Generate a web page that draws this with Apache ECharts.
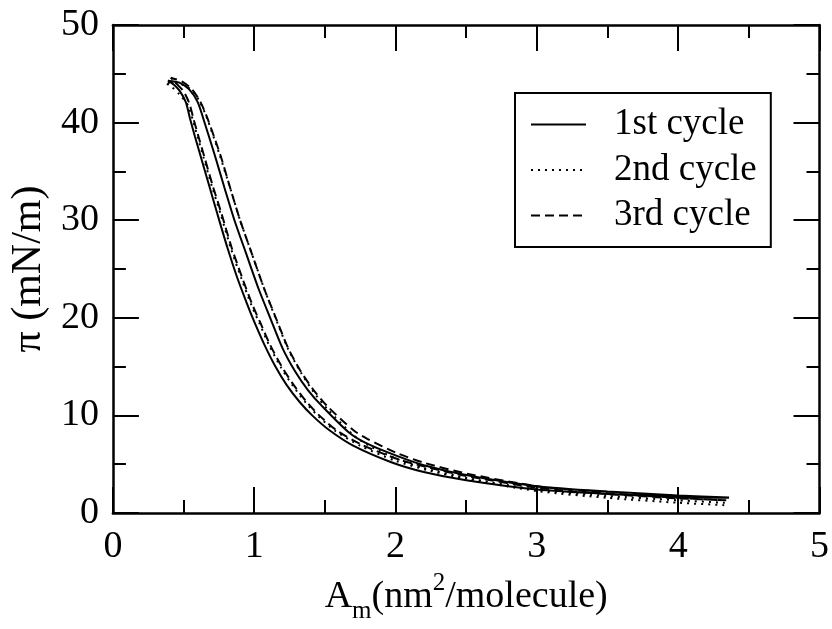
<!DOCTYPE html>
<html>
<head>
<meta charset="utf-8">
<script src="https://cdn.jsdelivr.net/npm/echarts@6/dist/echarts.min.js"></script>
<style>
html,body{margin:0;padding:0;background:#fff;}
#chart{width:832px;height:629px;}
</style>
</head>
<body>
<div id="chart"></div>
<script>
// Series names
const seriesNames = ['1st cycle', '2nd cycle', '3rd cycle'];
// Axis tick labels
const xTicks = [0, 1, 2, 3, 4, 5];
const yTicks = [0, 10, 20, 30, 40, 50];

// 1st cycle: compression (upper branch) then expansion (lower branch), [A_m, pi]
const c1Comp = [[4.36,1.58],[4.0,1.8],[3.5,2.2],[3.0,2.75],[2.5,3.9],[2.2,4.9],[2.0,5.9],[1.8,7.1],[1.67,8.25],[1.48,10.95],[1.38,12.6],[1.29,14.5],[1.2,16.9],[1.11,20.1],[1.03,23.0],[0.94,26.7],[0.86,30.0],[0.79,33.3],[0.72,36.7],[0.64,40.4],[0.60,42.1],[0.54,43.4],[0.47,44.1],[0.39,44.3]];
const c1Exp = [[0.39,44.3],[0.43,43.9],[0.47,43.3],[0.516,42.1],[0.546,40.4],[0.58,38.6],[0.62,36.6],[0.68,33.6],[0.74,30.6],[0.81,27.2],[0.88,24.1],[0.95,21.4],[1.0,19.6],[1.07,17.3],[1.15,15.0],[1.23,13.1],[1.32,11.4],[1.41,10.0],[1.53,8.5],[1.7,6.9],[1.97,5.2],[2.2,4.2],[2.5,3.35],[3.0,2.4],[3.5,1.95],[4.0,1.65],[4.36,1.55]];

// 2nd cycle
const c2Comp = [[4.33,1.05],[4.0,1.3],[3.5,1.75],[3.0,2.4],[2.5,3.6],[2.2,4.6],[2.0,5.6],[1.8,7.0],[1.7,8.0],[1.52,10.6],[1.42,12.4],[1.33,14.4],[1.24,16.8],[1.15,20.0],[1.07,23.0],[0.98,26.7],[0.90,30.0],[0.83,33.3],[0.755,36.7],[0.67,40.3],[0.62,42.0],[0.56,43.3],[0.47,44.0],[0.37,44.1]];
const c2Exp = [[0.37,44.1],[0.42,43.6],[0.47,42.9],[0.53,41.8],[0.565,40.3],[0.60,38.5],[0.64,36.5],[0.70,33.5],[0.765,30.5],[0.835,27.1],[0.91,24.0],[0.98,21.3],[1.035,19.5],[1.105,17.2],[1.19,14.9],[1.275,13.0],[1.365,11.3],[1.455,9.9],[1.575,8.4],[1.75,6.9],[2.0,5.35],[2.25,4.3],[2.5,3.5],[3.0,2.25],[3.5,1.55],[4.0,1.05],[4.33,0.8]];

// 3rd cycle
const c3Comp = [[4.34,1.3],[4.0,1.55],[3.5,2.05],[3.0,2.75],[2.5,4.05],[2.2,5.15],[2.0,6.2],[1.8,7.6],[1.7,8.5],[1.52,10.9],[1.42,12.6],[1.33,14.5],[1.24,16.9],[1.15,20.1],[1.07,23.0],[0.98,26.7],[0.90,30.0],[0.83,33.3],[0.76,36.7],[0.67,40.4],[0.62,42.1],[0.56,43.4],[0.49,44.2],[0.41,44.6]];
const c3Exp = [[0.41,44.6],[0.45,44.0],[0.50,43.2],[0.54,42.0],[0.57,40.4],[0.605,38.6],[0.645,36.6],[0.705,33.6],[0.77,30.6],[0.84,27.2],[0.915,24.1],[0.985,21.4],[1.04,19.6],[1.11,17.3],[1.195,15.0],[1.28,13.1],[1.37,11.4],[1.46,10.0],[1.58,8.5],[1.76,7.0],[2.02,5.5],[2.25,4.6],[2.5,3.8],[3.0,2.6],[3.5,1.95],[4.0,1.5],[4.34,1.3]];

const FONT = 'Liberation Serif';
const chart = echarts.init(document.getElementById('chart'), null, {renderer: 'canvas'});

function axisCommon(showLabels, margin) {
  return {
    axisLine: {show: true, onZero: false, lineStyle: {color: '#000', width: 2.5}},
    axisTick: {show: true, inside: true, length: 26, lineStyle: {color: '#000', width: 2}},
    minorTick: {show: true, splitNumber: 2, length: 13, lineStyle: {color: '#000', width: 2}},
    splitLine: {show: false},
    minorSplitLine: {show: false},
    axisLabel: {show: showLabels, color: '#000', fontFamily: FONT, fontSize: 38, margin: margin}
  };
}

const lineTypes = ['solid', [2, 5], [9, 5]];
const cycles = [[c1Comp, c1Exp], [c2Comp, c2Exp], [c3Comp, c3Exp]];

const series = cycles.map((c, i) => ({
  name: seriesNames[i],
  type: 'line',
  xAxisIndex: 0,
  yAxisIndex: 0,
  data: c[0].concat(c[1].slice(1)),
  symbol: 'none',
  smooth: 0.25,
  lineStyle: {color: '#000', width: 2, type: lineTypes[i]},
  itemStyle: {color: '#000'},
  z: 3 - i
}));

chart.setOption({
  animation: false,
  backgroundColor: '#fff',
  grid: {left: 108, right: 10, top: 25, bottom: 111, containLabel: false},
  legend: {
    data: seriesNames,
    orient: 'vertical',
    left: 515,
    top: 93,
    padding: [13, 14, 13, 15],
    itemGap: 8.5,
    itemWidth: 55,
    itemHeight: 14,
    borderColor: '#000',
    borderWidth: 2,
    borderRadius: 0,
    backgroundColor: '#fff',
    itemStyle: {color: 'rgba(0,0,0,0)', borderColor: 'rgba(0,0,0,0)', borderWidth: 0},
    textStyle: {color: '#000', fontFamily: FONT, fontSize: 37, lineHeight: 37, padding: [0, 0, 0, 23]}
  },
  xAxis: [
    Object.assign(axisCommon(true, 15), {
      type: 'value', position: 'bottom', min: xTicks[0], max: xTicks[xTicks.length - 1], interval: 1,
      name: '{a|A}{s|m}{a|(nm}{p|2}{a|/molecule)}',
      nameLocation: 'middle',
      nameGap: 58,
      nameTextStyle: {
        color: '#000', fontFamily: FONT, fontSize: 38,
        rich: {
          a: {fontFamily: FONT, fontSize: 38, color: '#000'},
          s: {fontFamily: FONT, fontSize: 25, color: '#000', padding: [28, 0, 0, 0]},
          p: {fontFamily: FONT, fontSize: 25, color: '#000', padding: [0, 0, 28, 0]}
        }
      }
    }),
    Object.assign(axisCommon(false, 12), {
      type: 'value', position: 'top', min: xTicks[0], max: xTicks[xTicks.length - 1], interval: 1
    })
  ],
  yAxis: [
    Object.assign(axisCommon(true, 14), {
      type: 'value', position: 'left', min: yTicks[0], max: yTicks[yTicks.length - 1], interval: 10,
      name: 'π (mN/m)',
      nameLocation: 'middle',
      nameRotate: 90,
      nameGap: 51,
      nameTextStyle: {color: '#000', fontFamily: FONT, fontSize: 42}
    }),
    Object.assign(axisCommon(false, 12), {
      type: 'value', position: 'right', min: yTicks[0], max: yTicks[yTicks.length - 1], interval: 10
    })
  ],
  series: series
});
</script>
</body>
</html>
